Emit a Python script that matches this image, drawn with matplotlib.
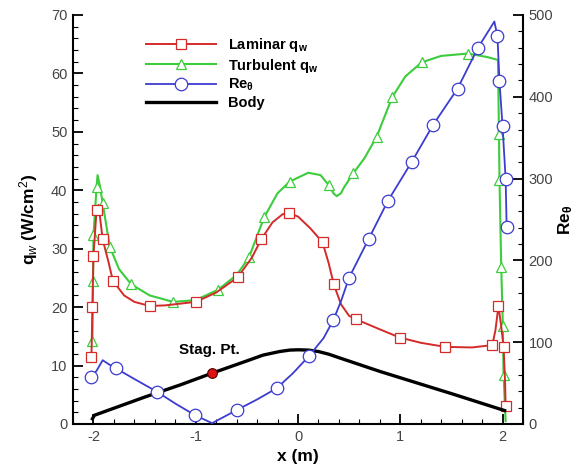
import matplotlib
matplotlib.use("Agg")
import matplotlib.pyplot as plt
from matplotlib.ticker import MultipleLocator

plt.rcParams['font.family'] = ['Liberation Sans', 'DejaVu Sans']
plt.rcParams['mathtext.fontset'] = 'custom'
plt.rcParams['mathtext.rm'] = 'Liberation Sans'
plt.rcParams['mathtext.it'] = 'Liberation Sans:italic'
plt.rcParams['mathtext.bf'] = 'Liberation Sans:bold'
plt.rcParams['axes.unicode_minus'] = False

# laminar heating (x in m, qw in W/cm2), 1 = marker drawn
lam_x = [-2.02, -2.01, -2.00, -1.98, -1.97, -1.95, -1.93, -1.91, -1.85, -1.81, -1.70, -1.60,
         -1.45, -1.30, -1.00, -0.80, -0.59, -0.45, -0.36, -0.25, -0.15, -0.09, 0.00, 0.12,
         0.24, 0.30, 0.35, 0.42, 0.50, 0.57, 0.80, 0.995, 1.20, 1.44, 1.70, 1.90, 1.93,
         1.96, 1.985, 2.01, 2.025, 2.03]
lam_q = [11.4, 20.1, 28.8, 34.0, 36.6, 37.5, 34.5, 31.6, 27.5, 24.5, 22.0, 20.9,
         20.2, 20.3, 20.9, 22.5, 25.1, 28.5, 31.6, 34.5, 35.9, 36.1, 35.5, 33.5,
         31.1, 27.5, 23.9, 20.5, 18.5, 17.9, 16.2, 14.8, 13.9, 13.2, 13.1, 13.5, 16.0,
         20.2, 17.0, 13.2, 7.0, 3.0]
lam_mk = [1, 1, 1, 0, 1, 0, 0, 1, 0, 1, 0, 0,
          1, 0, 1, 0, 1, 0, 1, 0, 0, 1, 0, 0,
          1, 0, 1, 0, 0, 1, 0, 1, 0, 1, 0, 1, 0,
          1, 0, 1, 0, 1]

# turbulent heating
turb_x = [-2.01, -2.005, -2.00, -1.97, -1.96, -1.94, -1.91, -1.84, -1.75, -1.63, -1.45, -1.22,
          -1.00, -0.78, -0.60, -0.48, -0.33, -0.20, -0.08, 0.10, 0.22, 0.30, 0.35, 0.38, 0.42, 0.45,
          0.54, 0.65, 0.77, 0.92, 1.05, 1.21, 1.40, 1.66, 1.85, 1.955, 1.965, 1.97,
          1.987, 2.003, 2.01, 2.03]
turb_q = [14.2, 24.4, 32.3, 40.5, 42.6, 41.0, 37.8, 30.3, 26.5, 23.9, 22.0, 20.9,
          21.2, 23.0, 25.5, 28.5, 35.4, 39.5, 41.5, 43.0, 42.6, 40.9, 39.4, 39.0, 39.5, 40.5,
          42.9, 45.5, 49.2, 55.9, 59.5, 61.9, 63.0, 63.4, 62.8, 62.3, 49.7, 41.8,
          26.9, 16.8, 8.4, 0.5]
turb_mk = [1, 1, 1, 1, 0, 0, 1, 1, 0, 1, 0, 1,
           0, 1, 0, 1, 1, 0, 1, 0, 0, 1, 0, 0, 0, 0,
           1, 0, 1, 1, 0, 1, 0, 1, 0, 0, 1, 1,
           1, 1, 1, 0]

# momentum thickness Reynolds number
re_x = [-2.02, -1.97, -1.91, -1.85, -1.78, -1.60, -1.38, -1.20, -1.01, -0.84, -0.60, -0.40,
        -0.21, -0.05, 0.107, 0.25, 0.345, 0.42, 0.50, 0.69, 0.88, 1.11, 1.32, 1.56, 1.76,
        1.85, 1.92, 1.95, 1.97, 2.00, 2.03, 2.04]
re_v = [58, 65, 78, 73, 68, 55, 39.5, 25, 11, 1, 17, 30,
        43.6, 62, 83, 105, 127, 150, 179, 226, 273, 320, 365.5, 410, 460,
        478, 492, 474, 419, 364, 300, 241]
re_mk = [1, 0, 0, 0, 1, 0, 1, 0, 1, 0, 1, 0,
         1, 0, 1, 0, 1, 0, 1, 1, 1, 1, 1, 1, 1,
         0, 0, 1, 1, 1, 1, 1]

# body contour
body_x = [-2.01, -1.99, -1.50, -1.15, -0.84, -0.50, -0.34, -0.18, -0.08, 0.00, 0.10, 0.20, 0.30,
          0.40, 0.80, 1.50, 2.02]
body_y = [0.9, 1.5, 4.6, 6.7, 8.7, 10.8, 11.8, 12.4, 12.65, 12.7, 12.65, 12.4, 11.95,
          11.35, 9.0, 5.2, 2.3]

stag_x, stag_y = -0.84, 8.8


def marks(flags):
    return [i for i, m in enumerate(flags) if m]


fig = plt.figure(figsize=(5.86, 4.73), dpi=100)
ax = fig.add_axes([0.1246, 0.1036, 0.7679, 0.8647])
ax2 = ax.twinx()

red = '#d42a2a'
green = '#3ccc3c'
blue = '#3c3cd0'

l1, = ax.plot(lam_x, lam_q, '-', color=red, lw=1.4, marker='s', ms=6.5, mfc='white',
              mec=red, mew=0.9, markevery=marks(lam_mk), label=r'Laminar q$_{\mathbf{w}}$', zorder=4)
l2, = ax.plot(turb_x, turb_q, '-', color=green, lw=1.5, marker='^', ms=7, mfc='white',
              mec=green, mew=0.9, markevery=marks(turb_mk), label=r'Turbulent q$_{\mathbf{w}}$', zorder=3)
l3, = ax2.plot(re_x, re_v, '-', color=blue, lw=1.3, marker='o', ms=9, mfc='white',
               mec=blue, mew=0.9, markevery=marks(re_mk), label=r'Re$_{\mathbf{θ}}$')
l4, = ax.plot(body_x, body_y, '-', color='black', lw=2.4, label='Body', zorder=5)
ax.plot([stag_x], [stag_y], 'o', color='#dd1111', mec='#550000', mew=0.8, ms=7, zorder=6)
ax.text(-1.16, 12.6, 'Stag. Pt.', fontsize=11, fontweight='bold', ha='left', va='center', zorder=7)

ax.set_xlim(-2.2, 2.2)
ax.set_ylim(0, 70)
ax2.set_ylim(0, 500)

ax.xaxis.set_major_locator(MultipleLocator(1))
ax.xaxis.set_minor_locator(MultipleLocator(0.2))
ax.yaxis.set_major_locator(MultipleLocator(10))
ax.yaxis.set_minor_locator(MultipleLocator(2))
ax2.yaxis.set_major_locator(MultipleLocator(100))
ax2.yaxis.set_minor_locator(MultipleLocator(20))

for a in (ax, ax2):
    a.spines['top'].set_visible(False)
    for s in a.spines.values():
        s.set_linewidth(1.5)
    a.tick_params(which='major', direction='in', length=7, width=1.3, labelsize=10.5,
                  labelcolor='#444444', pad=4)
    a.tick_params(which='minor', direction='in', length=3.5, width=0.8)
ax.spines['right'].set_visible(False)
ax2.spines['left'].set_visible(False)
ax2.spines['bottom'].set_visible(False)
ax.tick_params(axis='x', which='both', top=False)
ax.tick_params(axis='y', which='both', right=False)

ax.set_xlabel('x (m)', fontsize=12.5, fontweight='bold', labelpad=4)
ax.set_ylabel(r'q$_w$ (W/cm$^2$)', fontsize=12.5, fontweight='bold', labelpad=8)
ax2.set_ylabel(r'Re$_{\mathbf{θ}}$', fontsize=12.5, fontweight='bold', labelpad=2)

leg = ax.legend(handles=[l1, l2, l3, l4], loc='upper left', bbox_to_anchor=(0.162, 0.948),
                frameon=False, handlelength=4.8, handletextpad=0.8,
                labelspacing=0.16, borderpad=0, borderaxespad=0, numpoints=1,
                prop={'weight': 'bold', 'size': 10.5})
leg.set_zorder(10)

fig.savefig('out.png', dpi=100)
